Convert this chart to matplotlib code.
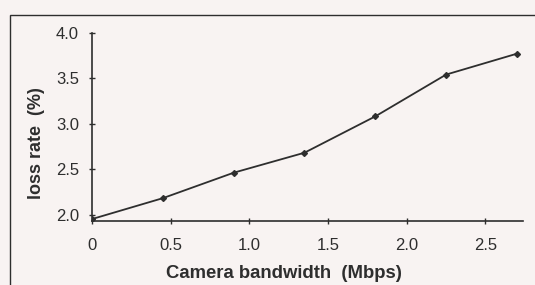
import matplotlib
matplotlib.use('Agg')
import matplotlib.pyplot as plt
from matplotlib.patches import Rectangle

# values
bandwidth = [0, 0.45, 0.9, 1.35, 1.8, 2.25, 2.7]
loss_rate = [1.95, 2.18, 2.46, 2.68, 3.08, 3.54, 3.77]
x_ticks = [0, 0.5, 1.0, 1.5, 2.0, 2.5]
x_labels = ['0', '0.5', '1.0', '1.5', '2.0', '2.5']
y_ticks = [2.0, 2.5, 3.0, 3.5, 4.0]
y_labels = ['2.0', '2.5', '3.0', '3.5', '4.0']

bg = '#f8f3f2'
ink = '#2e2e2e'
plt.rcParams['font.family'] = ['Liberation Sans', 'DejaVu Sans']

fig = plt.figure(figsize=(5.35, 2.85), dpi=100, facecolor=bg)
# outer frame of the scanned figure
fig.patches.append(Rectangle((10 / 535, -0.1), 1.0, 1.1 - 15 / 285,
                             transform=fig.transFigure, fill=False,
                             edgecolor=ink, linewidth=1.0))

ax = fig.add_axes([0.172, 0.225, 0.806, 0.66])
ax.set_facecolor(bg)
ax.plot(bandwidth, loss_rate, color=ink, linewidth=1.3,
        marker='D', markersize=3, markerfacecolor=ink, markeredgecolor=ink)

ax.set_xlim(0, 2.74)
ax.set_ylim(1.93, 4.0)
ax.set_xticks(x_ticks)
ax.set_xticklabels(x_labels)
ax.set_yticks(y_ticks)
ax.set_yticklabels(y_labels)
ax.tick_params(direction='inout', length=5, width=1, colors=ink,
               labelsize=12, pad=7)
ax.tick_params(axis='x', pad=10)
for s in ['top', 'right']:
    ax.spines[s].set_visible(False)
for s in ['left', 'bottom']:
    ax.spines[s].set_color(ink)
    ax.spines[s].set_linewidth(1.2)

ax.set_xlabel('Camera bandwidth  (Mbps)', fontsize=13.3, fontweight='bold',
              color=ink)
ax.set_ylabel('loss rate  (%)', fontsize=13, fontweight='bold', color=ink)
ax.xaxis.set_label_coords(0.445, -0.235)
ax.yaxis.set_label_coords(-0.11, 0.415)

fig.savefig('out.png', dpi=100, facecolor=bg)
